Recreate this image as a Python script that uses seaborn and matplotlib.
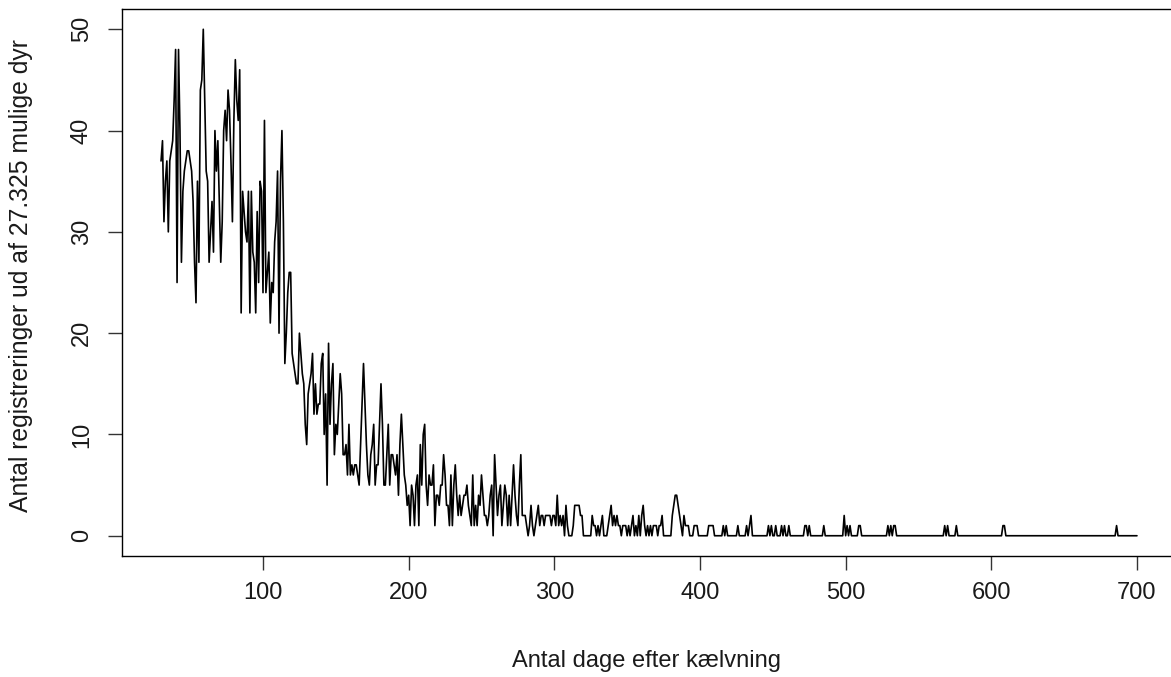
import numpy as np
import pandas as pd
import matplotlib
matplotlib.use("Agg")
import matplotlib.pyplot as plt
import seaborn as sns

# --- data: daily number of registrations, day 30 .. 700 after calving ---
first_day = 30
last_day = 700

counts = [
    37, 39, 31, 35, 37, 30, 37, 38, 39, 43,   # 30
    48, 25, 48, 40, 27, 34, 36, 37, 38, 38,   # 40
    37, 36, 33, 27, 23, 35, 27, 44, 45, 50,   # 50
    43, 36, 35, 27, 30, 33, 28, 40, 36, 39,   # 60
    33, 27, 31, 40, 42, 39, 44, 42, 37, 31,   # 70
    41, 47, 43, 41, 46, 22, 34, 32, 30, 29,   # 80
    34, 22, 34, 28, 27, 22, 32, 25, 35, 34,   # 90
    24, 41, 24, 26, 28, 21, 25, 24, 29, 31,   # 100
    36, 20, 35, 40, 31, 17, 20, 24, 26, 26,   # 110
    18, 17, 16, 15, 15, 20, 18, 16, 15, 11,   # 120
    9, 14, 15, 16, 18, 12, 15, 12, 13, 13,    # 130
    17, 18, 10, 14, 5, 19, 11, 15, 17, 8,     # 140
    11, 10, 13, 16, 14, 8, 8, 9, 6, 11,       # 150
    6, 7, 6, 7, 7, 6, 5, 9, 13, 17,           # 160
    13, 9, 6, 5, 8, 9, 11, 5, 7, 7,           # 170
    11, 15, 11, 5, 5, 8, 11, 5, 8, 8,         # 180
    7, 6, 8, 4, 9, 12, 9, 6, 5, 3,            # 190
    4, 1, 5, 4, 1, 5, 6, 1, 9, 5,             # 200
    10, 11, 5, 3, 6, 5, 5, 7, 1, 4,           # 210
    4, 3, 5, 5, 8, 6, 3, 3, 1, 6,             # 220
    1, 5, 7, 4, 2, 4, 2, 3, 4, 4,             # 230
    5, 3, 2, 1, 6, 1, 3, 1, 4, 3,             # 240
    6, 4, 2, 2, 1, 2, 4, 5, 0, 8,             # 250
    5, 2, 4, 5, 1, 3, 5, 4, 1, 4,             # 260
    1, 4, 7, 4, 2, 1, 5, 8, 2, 2,             # 270
    2, 1, 0, 1, 3, 1, 0, 1, 2, 3,             # 280
    1, 2, 2, 1, 2, 2, 2, 2, 1, 2,             # 290
    2, 1, 4, 1, 2, 1, 2, 0, 3, 1,             # 300
    0, 0, 0, 1, 3, 3, 3, 3, 2, 2,             # 310
    0, 0, 0, 0, 0, 0, 2, 1, 1, 0,             # 320
    1, 0, 1, 2, 0, 0, 0, 1, 2, 3,             # 330
    1, 2, 1, 2, 1, 1, 0, 1, 1, 1,             # 340
    0, 1, 0, 1, 2, 0, 1, 0, 2, 0,             # 350
    2, 3, 1, 0, 1, 0, 1, 0, 1, 1,             # 360
    1, 0, 1, 1, 2, 0, 0, 0, 0, 0,             # 370
    0, 2, 3, 4, 4, 3, 2, 1, 0, 2,             # 380
    1, 1, 1, 0, 0, 0, 1, 1, 1, 0,             # 390
    0, 0, 0, 0, 0, 0, 1, 1, 1, 1,             # 400
    0, 0, 0, 0, 0, 0, 1, 0, 1, 0,             # 410
    0, 0, 0, 0, 0, 0, 1, 0, 0, 0,             # 420
    0, 0, 1, 0, 1, 2, 0, 0, 0, 0,             # 430
    0, 0, 0, 0, 0, 0, 0, 1, 0, 1,             # 440
    0, 0, 1, 0, 0, 0, 1, 0, 1, 0,             # 450
    0, 1, 0, 0, 0, 0, 0, 0, 0, 0,             # 460
    0, 0, 1, 1, 0, 1, 0, 0, 0, 0,             # 470
    0, 0, 0, 0, 0, 1, 0, 0, 0, 0,             # 480
    0, 0, 0, 0, 0, 0, 0, 0, 0, 2,             # 490
    0, 1, 0, 1, 0, 0, 0, 0, 0, 1,             # 500
    1, 0, 0, 0, 0, 0, 0, 0, 0, 0,             # 510
    0, 0, 0, 0, 0, 0, 0, 0, 0, 1,             # 520
    0, 1, 0, 1, 1, 0, 0, 0, 0, 0,             # 530
    0, 0, 0, 0, 0, 0, 0, 0, 0, 0,             # 540
    0, 0, 0, 0, 0, 0, 0, 0, 0, 0,             # 550
    0, 0, 0, 0, 0, 0, 0, 0, 1, 0,             # 560
    1, 0, 0, 0, 0, 0, 1, 0, 0, 0,             # 570
    0, 0, 0, 0, 0, 0, 0, 0, 0, 0,             # 580
    0, 0, 0, 0, 0, 0, 0, 0, 0, 0,             # 590
    0, 0, 0, 0, 0, 0, 0, 0, 1, 1,             # 600
    0, 0, 0, 0, 0, 0, 0, 0, 0, 0,             # 610
    0, 0, 0, 0, 0, 0, 0, 0, 0, 0,             # 620
    0, 0, 0, 0, 0, 0, 0, 0, 0, 0,             # 630
    0, 0, 0, 0, 0, 0, 0, 0, 0, 0,             # 640
    0, 0, 0, 0, 0, 0, 0, 0, 0, 0,             # 650
    0, 0, 0, 0, 0, 0, 0, 0, 0, 0,             # 660
    0, 0, 0, 0, 0, 0, 0, 0, 0, 0,             # 670
    0, 0, 0, 0, 0, 0, 1, 0, 0, 0,             # 680
    0, 0, 0, 0, 0, 0, 0, 0, 0, 0,             # 690
    0,                                        # 700
]

x_ticks = [100, 200, 300, 400, 500, 600, 700]
y_ticks = [0, 10, 20, 30, 40, 50]
x_label = "Antal dage efter kælvning"
y_label = "Antal registreringer ud af 27.325 mulige dyr"

df = pd.DataFrame({"dag": np.arange(first_day, last_day + 1), "antal": counts})

# --- plot ---
sns.set_style("white")
plt.rcParams["font.family"] = ["Liberation Sans", "DejaVu Sans"]

fig = plt.figure(figsize=(11.71, 6.77), dpi=100)
# the right edge of the box falls just outside the picture (screenshot crop)
ax = fig.add_axes([122 / 1171, 1 - 556 / 677, (1176 - 122) / 1171, (556 - 9) / 677])

sns.lineplot(data=df, x="dag", y="antal", color="black", linewidth=1.2, ax=ax)

# R style axis padding (4% each side)
ax.set_xlim(3.2, 726.8)
ax.set_ylim(-2, 52)
ax.set_xticks(x_ticks)
ax.set_yticks(y_ticks)

for side in ["left", "right", "top", "bottom"]:
    ax.spines[side].set_visible(True)
    ax.spines[side].set_color("black")
    ax.spines[side].set_linewidth(1.0)

ax.tick_params(axis="both", direction="out", length=10, width=1.0, color="#333333",
               labelsize=17, labelcolor="#1a1a1a", left=True, bottom=True)
ax.tick_params(axis="x", pad=9)
ax.tick_params(axis="y", pad=11)
for lbl in ax.get_yticklabels():
    lbl.set_rotation(90)
    lbl.set_va("center")
    lbl.set_ha("right")

ax.set_xlabel(x_label, fontsize=17, color="#1a1a1a")
ax.set_ylabel(y_label, fontsize=17.8, color="#1a1a1a")
ax.xaxis.set_label_coords((646 - 122) / 1054, (556 - 661) / 547)
ax.xaxis.label.set_va("center")
ax.yaxis.set_label_coords((21 - 122) / 1054, (556 - 276) / 547)
ax.yaxis.label.set_va("center")
ax.grid(False)

fig.savefig("out.png", dpi=100)
